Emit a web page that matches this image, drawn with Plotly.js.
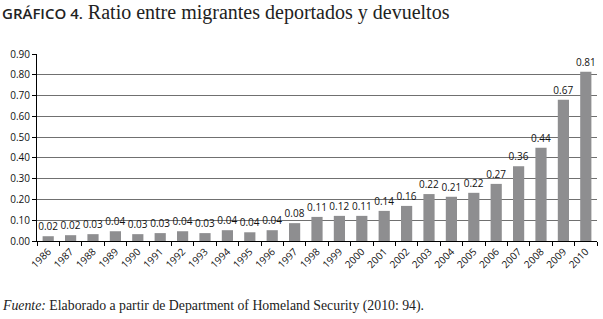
<!DOCTYPE html>
<html><head><meta charset="utf-8">
<script src="https://cdn.plot.ly/plotly-3.0.1.min.js"></script>
<style>body{margin:0;background:#fff}#c{width:603px;height:319px}</style>
</head><body><div id="c"></div>
<script>
const years = ["1986","1987","1988","1989","1990","1991","1992","1993","1994","1995","1996","1997","1998","1999","2000","2001","2002","2003","2004","2005","2006","2007","2008","2009","2010"];
const ratio = [0.023,0.028,0.033,0.047,0.033,0.038,0.047,0.038,0.052,0.042,0.052,0.086,0.116,0.121,0.121,0.145,0.169,0.226,0.213,0.232,0.275,0.36,0.449,0.68,0.815];
const labels = ["0.02","0.02","0.03","0.04","0.03","0.03","0.04","0.03","0.04","0.04","0.04","0.08","0.11","0.12","0.11","0.14","0.16","0.22","0.21","0.22","0.27","0.36","0.44","0.67","0.81"];
const titleLead = "GRÁFICO 4.";
const titleText = "Ratio entre migrantes deportados y devueltos";
const sourceLead = "Fuente:";
const sourceText = "Elaborado a partir de Department of Homeland Security (2010: 94).";

const trace = {
  type: "bar", x: years, y: ratio, text: labels,
  textposition: "outside", cliponaxis: false, constraintext: "none", textangle: 0,
  textfont: {family: "Open Sans", size: 10, color: "#111"},
  marker: {color: "#8e8e90", line: {width: 0}},
  hoverinfo: "skip"
};
const layout = {
  width: 603, height: 319,
  margin: {l: 37, r: 6, t: 54, b: 78},
  paper_bgcolor: "#fff", plot_bgcolor: "#fff",
  showlegend: false, bargap: 0.5,
  font: {family: "Open Sans", size: 10, color: "#111"},
  xaxis: {
    type: "category", tickangle: -45, tickson: "boundaries",
    ticks: "outside", ticklen: 4, tickcolor: "#000", tickwidth: 1,
    showline: true, linecolor: "#000", linewidth: 1,
    showgrid: false, tickfont: {family: "Open Sans", size: 10, color: "#111"}
  },
  yaxis: {
    range: [0, 0.9005], dtick: 0.1, tick0: 0, tickformat: ".2f",
    ticks: "outside", ticklen: 4, tickcolor: "#000", tickwidth: 1,
    showline: true, linecolor: "#000", linewidth: 1,
    showgrid: true, gridcolor: "#707070", gridwidth: 1, zeroline: false,
    tickfont: {family: "Open Sans", size: 10, color: "#111"}
  },
  annotations: [
    {xref: "paper", yref: "paper", x: -37/560, y: 1 + (54-13)/186, xanchor: "left", yanchor: "middle", showarrow: false,
     text: "<span style='font-family:Open Sans;font-size:15px;font-weight:600'>" + titleLead + "</span> " + titleText,
     font: {family: "Liberation Serif", size: 20, color: "#222"}},
    {xref: "paper", yref: "paper", x: -37/560, y: -(305-240)/186, xanchor: "left", yanchor: "middle", showarrow: false,
     text: "<i>" + sourceLead + "</i> " + sourceText,
     font: {family: "Liberation Serif", size: 13.8, color: "#222"}}
  ]
};
Plotly.newPlot("c", [trace], layout, {staticPlot: true, displayModeBar: false});
</script></body></html>
